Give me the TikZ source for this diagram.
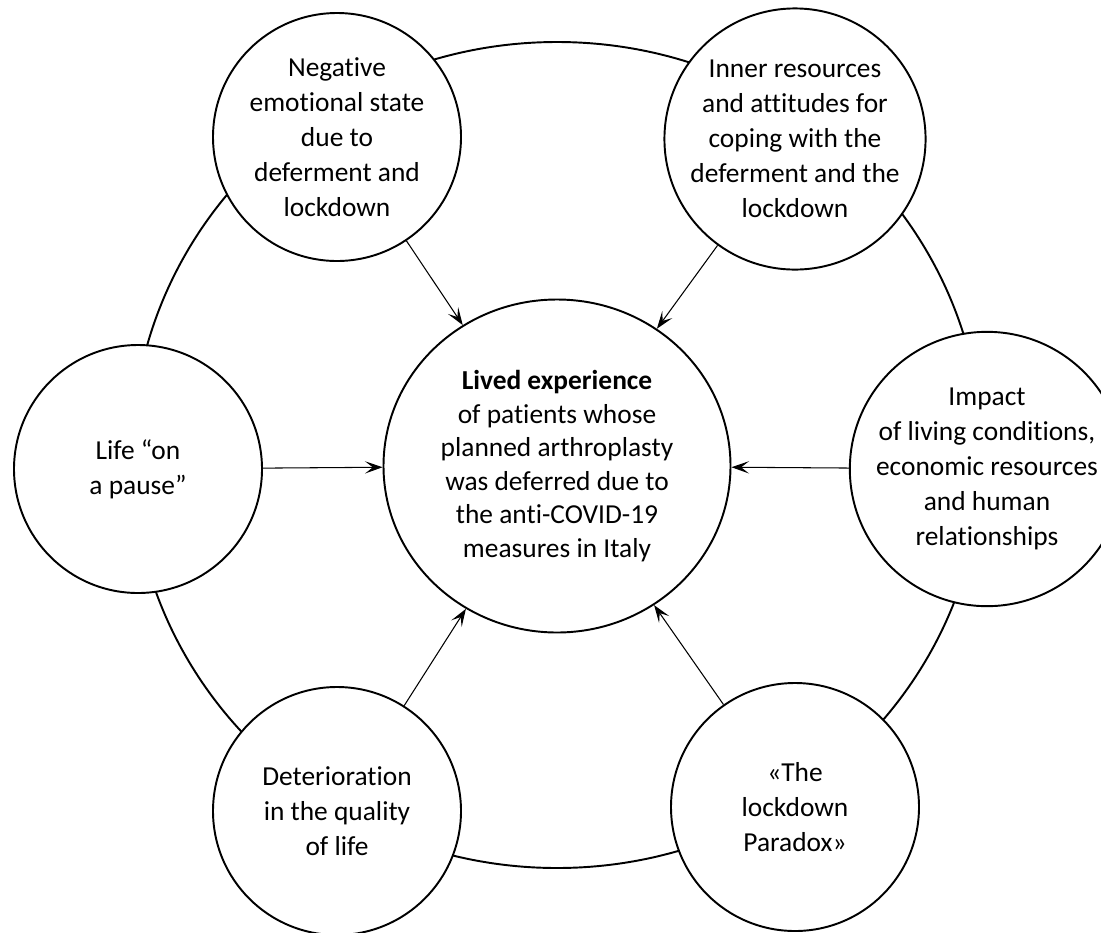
\documentclass[tikz,border=0pt]{standalone}
\usepackage{fontspec}
\setmainfont[Ligatures=NoCommon]{Carlito}
\usepackage{tikz}
\usetikzlibrary{arrows.meta,shapes.geometric}

\begin{document}
\begin{tikzpicture}[
every node/.style={font=\fontsize{15.6}{19.9}\selectfont},
theme/.style={draw, circle, fill=white, line width=1.1pt, align=center, inner sep=0pt, minimum size=4.96cm},
core/.style={draw, ellipse, fill=white, line width=1.1pt, align=center, inner sep=0pt, minimum width=6.94cm, minimum height=6.66cm, font=\fontsize{15.6}{19.1}\selectfont},
ring/.style={line width=1.1pt},
arr/.style={-{Stealth[length=10pt,width=7pt,inset=4.5pt]}, line width=0.6pt}
]
\useasboundingbox (0,0) rectangle (22.02,-18.64);

% Outer ring linking the themes
\coordinate (hub) at (11.14,-9.10);
\draw[ring] (hub) ellipse [x radius=8.5cm, y radius=8.26cm];

% Central theme
\node[core] (C) at (11.14,-9.32) {\textbf{Lived experience}\\of patients whose\\planned arthroplasty\\was deferred due to\\the anti-COVID-19\\measures in Italy};

% Surrounding themes
\node[theme] (TL) at (6.74,-2.74) {Negative\\emotional state\\due to\\deferment and\\lockdown};
\node[theme] (TR) at (15.90,-2.78) {Inner resources\\and attitudes for\\coping with the\\deferment and the\\lockdown};
\node[theme] (L) at (2.76,-9.38) {Life “on\\a pause”};
\node[theme] (R) at (19.74,-9.38) {Impact\\of living conditions,\\economic resources\\and human\\relationships};
\node[theme] (BL) at (6.74,-16.22) {Deterioration\\in the quality\\of life};
\node[theme] (BR) at (15.90,-16.14) {«The\\lockdown\\Paradox»};

% Links to the centre
\draw[arr] (TL) -- (C); \draw[arr] (TR) -- (C);
\draw[arr] (L) -- (C); \draw[arr] (R) -- (C);
\draw[arr] (BL) -- (C); \draw[arr] (BR) -- (C);

\end{tikzpicture}
\end{document}
